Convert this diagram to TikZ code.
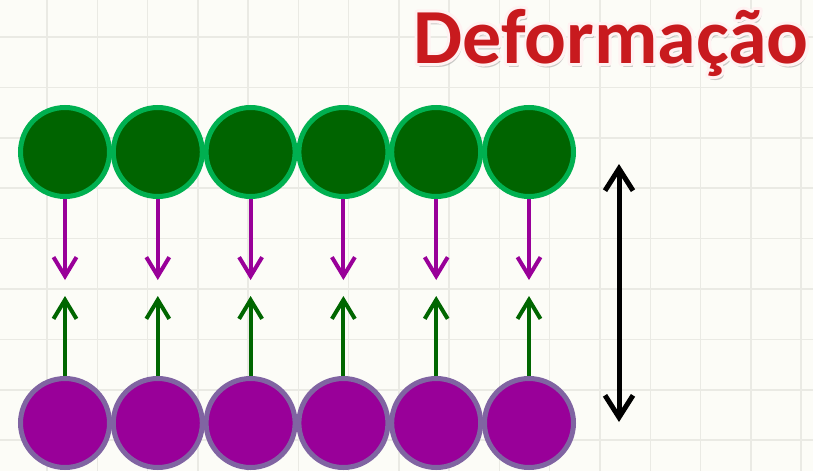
\documentclass[tikz,border=0pt]{standalone}
\usepackage{fontspec}
\newfontfamily\titlefont{Carlito}
\usetikzlibrary{arrows.meta,positioning,calc}
\definecolor{paper}{RGB}{252,252,247}
\definecolor{gridc}{RGB}{234,234,228}
\definecolor{gfill}{RGB}{0,100,0}
\definecolor{gedge}{RGB}{0,176,80}
\definecolor{pfill}{RGB}{153,0,153}
\definecolor{pedge}{RGB}{128,100,162}
\definecolor{gline}{RGB}{0,102,0}
\definecolor{titlered}{RGB}{200,26,30}
\newcommand{\haloed}[1]{\special{pdf:literal direct 1 Tr 6 w 1 j 1 0.95 0.95 RG}#1\special{pdf:literal direct 0 Tr}}
\tikzset{
gball/.style = {draw=gedge, fill=gfill, circle, line width=5pt, minimum size=89pt, inner sep=0pt},
pball/.style = {draw=pedge, fill=pfill, circle, line width=5pt, minimum size=89pt, inner sep=0pt},
pull/.style = {draw=pfill, line width=4pt, -{Straight Barb[length=19pt,width=23pt]}},
push/.style = {draw=gline, line width=4pt, -{Straight Barb[length=19pt,width=23pt]}},
span/.style = {draw=black, line width=5pt, {Straight Barb[length=22pt,width=28pt]}-{Straight Barb[length=22pt,width=28pt]}},
gridline/.style = {draw=gridc, line width=1.5pt},
titletxt/.style = {font=\titlefont\bfseries\fontsize{78}{80}\selectfont, anchor=base west, inner sep=0pt}
}
\begin{document}
\begin{tikzpicture}[x=1pt, y=-1pt, node distance=92.8pt]
    % background paper
    \fill[paper] (0,0) rectangle (813,471);
    \useasboundingbox (0,0) rectangle (813,471);
    \foreach \k in {0,...,15} \draw[gridline] (47+50.27*\k,0) -- ++(0,471);
    \foreach \k in {0,...,8} \draw[gridline] (0,37+50.4*\k) -- ++(813,0);

    % title: shadow, halo, letters
    \node[titletxt, text=black!45, opacity=0.45] (shadow) at (415,67) {Deformação};
    \node[titletxt, text=white] (halo) at (413,63) {\haloed{Deformação}};
    \node[titletxt, text=titlered] (title) at (413,63) {Deformação};

    % top row
    \node[gball] (g1) at (65,152) {};
    \node[gball, right of = g1] (g2) {};
    \node[gball, right of = g2] (g3) {};
    \node[gball, right of = g3] (g4) {};
    \node[gball, right of = g4] (g5) {};
    \node[gball, right of = g5] (g6) {};

    % bottom row
    \node[pball] (p1) at (65,423) {};
    \node[pball, right of = p1] (p2) {};
    \node[pball, right of = p2] (p3) {};
    \node[pball, right of = p3] (p4) {};
    \node[pball, right of = p4] (p5) {};
    \node[pball, right of = p5] (p6) {};

    % arrow ends
    \foreach \i in {1,...,6} {
        \coordinate (d\i) at ($(g\i)+(0,128)$);
        \coordinate (u\i) at ($(p\i)+(0,-127)$);
    }
    \foreach \i in {1,...,6} {
        \draw[pull] (g\i.south) -- (d\i);
        \draw[push] (p\i.north) -- (u\i);
    }

    % gap
    \coordinate (top) at (619,164);
    \coordinate (bot) at (619,422);
    \draw[span] (top) -- (bot);
\end{tikzpicture}
\end{document}
